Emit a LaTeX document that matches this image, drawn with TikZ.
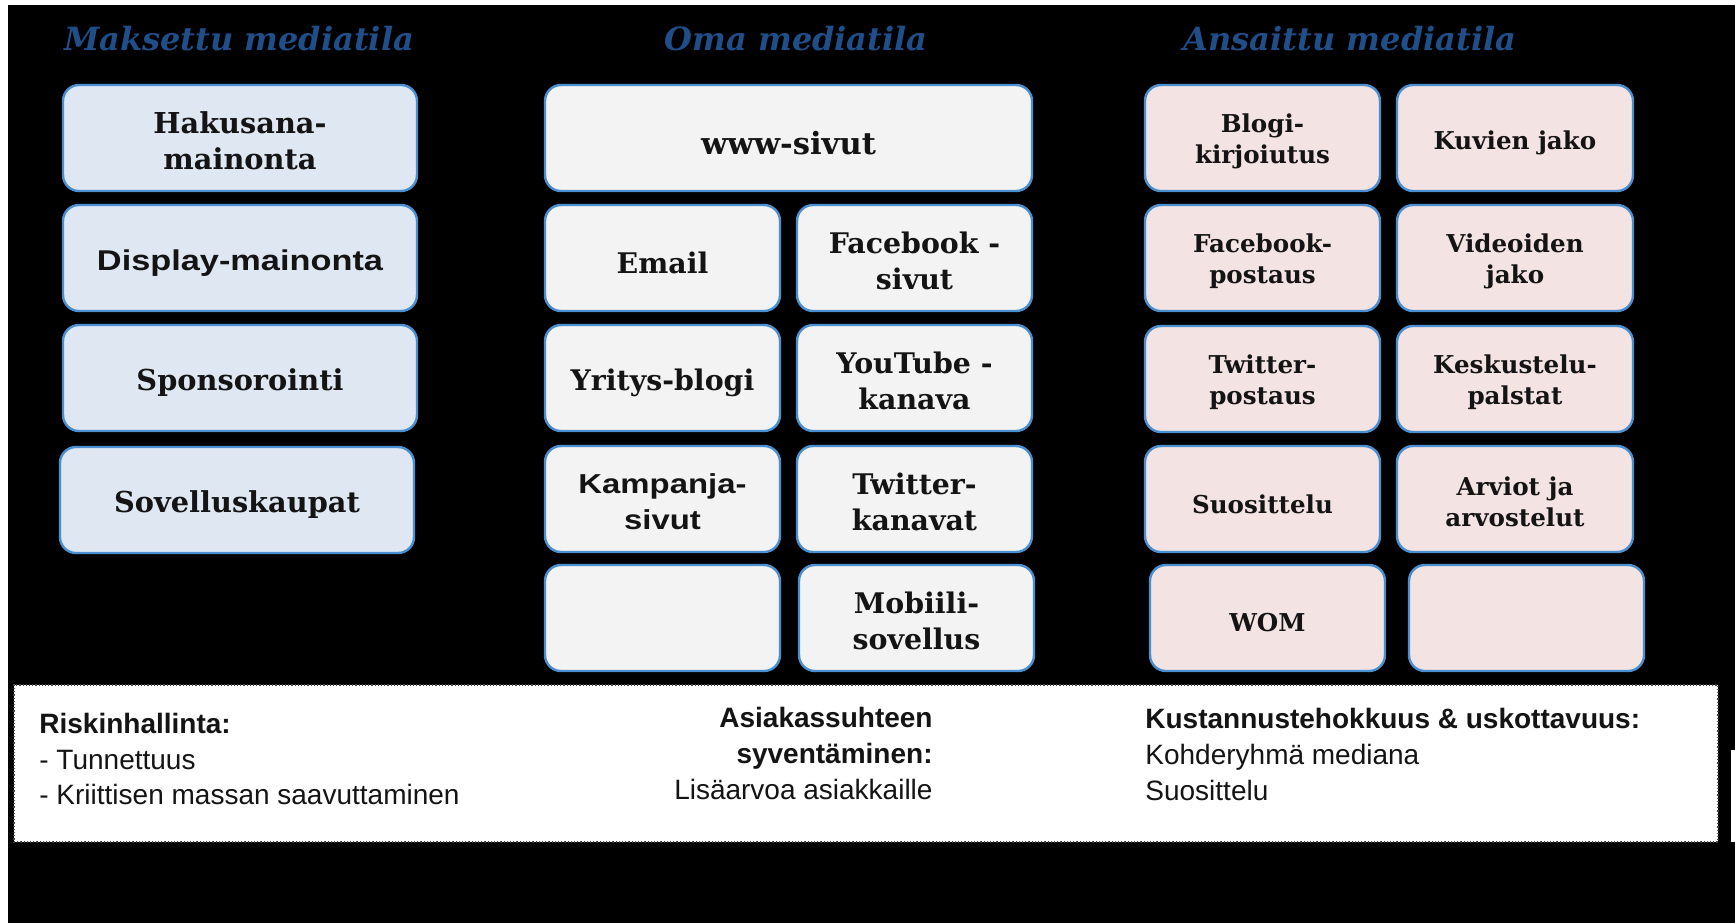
\documentclass[tikz,border=0pt]{standalone}
\usepackage{fontspec}
\setmainfont{Liberation Sans}
\newfontfamily\boxserif{DejaVu Serif}
\newfontfamily\widesans{Liberation Sans}[FakeStretch=1.2]
\definecolor{boxline}{HTML}{4A8FD0}
\definecolor{paidfill}{HTML}{DFE7F3}
\definecolor{ownfill}{HTML}{F3F3F3}
\definecolor{earnfill}{HTML}{F4E3E3}
\definecolor{titleblue}{HTML}{1F4E89}
\definecolor{ink}{HTML}{141414}
\tikzset{
  mbox/.style={draw=boxline, line width=1.2pt, rounded corners=8pt,
    inner sep=0pt, outer sep=0pt, anchor=north west,
    minimum height=53pt},
  paid/.style={mbox, fill=paidfill, minimum width=177pt},
  own/.style={mbox, fill=ownfill, minimum width=117.5pt},
  earned/.style={mbox, fill=earnfill, minimum width=117.5pt},
  % text set inside the boxes
  boxtext/.style={inner sep=0pt, align=center, text=ink, yshift=-1.5pt},
  oneline/.style={yshift=-1pt},
  ptext/.style={boxtext, font={\boxserif\bfseries\fontsize{14.4}{18}\selectfont}},
  otext/.style={boxtext, font={\boxserif\bfseries\fontsize{14.2}{18}\selectfont}},
  etext/.style={boxtext, font={\boxserif\bfseries\fontsize{12.3}{15.5}\selectfont}},
  stext/.style={boxtext, font={\widesans\bfseries\fontsize{13.7}{18}\selectfont}},
  coltitle/.style={anchor=base, text=titleblue, inner sep=0pt,
    font={\boxserif\bfseries\itshape\fontsize{16}{18}\selectfont}},
  infobox/.style={draw=gray!55!black, densely dotted, line width=0.6pt,
    fill=white, anchor=north west, inner sep=0pt, outer sep=0pt},
  infohead/.style={inner sep=0pt, text=ink, font={\bfseries\fontsize{14}{17}\selectfont}},
  infotext/.style={inner sep=0pt, text=ink, font={\fontsize{14}{17}\selectfont}},
}
\begin{document}
\begin{tikzpicture}[x=0.5pt,y=-0.5pt]
  % canvas
  \useasboundingbox (0,0) rectangle (1735,923);
  \fill[black] (0,0) rectangle (1735,923);
  \fill[white] (0,0) rectangle (1735,5);
  \fill[white] (0,0) rectangle (8,923);
  \fill[white] (1731,750) rectangle (1735,842);

  % column titles
  \node[coltitle] (tpaid) at (239,50) {Maksettu mediatila};
  \node[coltitle] (town) at (796,50) {Oma mediatila};
  \node[coltitle] (tearn) at (1350,50) {Ansaittu mediatila};

  % paid media
  \node[paid, label={[ptext]center:{Hakusana-\\mainonta}}] (hakusana) at (63,85) {};
  \node[paid, label={[stext,oneline,font={\widesans\bfseries\fontsize{14.3}{18}\selectfont}]center:{Display-mainonta}}] (display) at (63,205) {};
  \node[paid, label={[ptext,oneline]center:{Sponsorointi}}] (sponsor) at (63,325) {};
  \node[paid, label={[ptext,oneline]center:{Sovelluskaupat}}] (sovellus) at (60,447) {};

  % owned media
  \node[own, minimum width=243.5pt, label={[otext,oneline,font={\boxserif\bfseries\fontsize{15.3}{18}\selectfont}]center:{www-sivut}}] (www) at (545,85) {};
  \node[own, label={[otext,oneline]center:{Email}}] (email) at (545,205) {};
  \node[own, label={[otext]center:{Facebook -\\sivut}}] (fbsivut) at (797,205) {};
  \node[own, label={[otext,oneline]center:{Yritys-blogi}}] (yblogi) at (545,325) {};
  \node[own, label={[otext]center:{YouTube -\\kanava}}] (youtube) at (797,325) {};
  \node[own, label={[stext]center:{Kampanja-\\sivut}}] (kampanja) at (545,446) {};
  \node[own, label={[otext]center:{Twitter-\\kanavat}}] (twkanava) at (797,446) {};
  \node[own] (ownempty) at (545,565) {};
  \node[own, label={[otext]center:{Mobiili-\\sovellus}}] (mobiili) at (799,565) {};

  % earned media
  \node[earned, label={[etext]center:{Blogi-\\kirjoiutus}}] (blogi) at (1145,85) {};
  \node[earned, minimum width=118pt, label={[etext,oneline]center:{Kuvien jako}}] (kuvat) at (1397,85) {};
  \node[earned, label={[etext]center:{Facebook-\\postaus}}] (fbpost) at (1145,205) {};
  \node[earned, minimum width=118pt, label={[etext]center:{Videoiden\\jako}}] (videot) at (1397,205) {};
  \node[earned, label={[etext]center:{Twitter-\\postaus}}] (twpost) at (1145,326) {};
  \node[earned, minimum width=118pt, label={[etext]center:{Keskustelu-\\palstat}}] (palstat) at (1397,326) {};
  \node[earned, label={[etext,oneline]center:{Suosittelu}}] (suos) at (1145,446) {};
  \node[earned, minimum width=118pt, label={[etext]center:{Arviot ja\\arvostelut}}] (arviot) at (1397,446) {};
  \node[earned, label={[etext,oneline]center:{WOM}}] (wom) at (1150,565) {};
  \node[earned] (earnempty) at (1409,565) {};

  % summary panel
  \node[infobox, minimum width=852pt, minimum height=78.5pt] (info) at (14,685) {};
  \node[infohead, anchor=base west] (risk) at (39,733) {Riskinhallinta:};
  \node[infotext, anchor=base west] (risk1) at (39,769) {- Tunnettuus};
  \node[infotext, anchor=base west] (risk2) at (39,804) {- Kriittisen massan saavuttaminen};
  \node[infohead, anchor=base east] (asiakas) at (933,727) {Asiakassuhteen};
  \node[infohead, anchor=base east] (syvent) at (933,763) {syventäminen:};
  \node[infotext, anchor=base east] (lisa) at (933,799) {Lisäarvoa asiakkaille};
  \node[infohead, anchor=base west] (kust) at (1145,728) {Kustannustehokkuus \& uskottavuus:};
  \node[infotext, anchor=base west] (kohde) at (1145,764) {Kohderyhmä mediana};
  \node[infotext, anchor=base west] (suos2) at (1145,800) {Suosittelu};
\end{tikzpicture}
\end{document}
